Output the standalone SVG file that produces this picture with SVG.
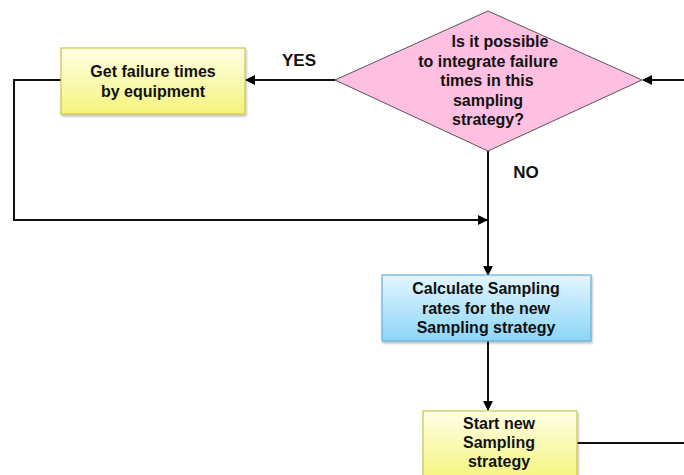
<svg xmlns="http://www.w3.org/2000/svg" width="684" height="475" viewBox="0 0 684 475">
<defs>
<linearGradient id="gy" x1="0" y1="0" x2="0" y2="1"><stop offset="0" stop-color="#ffffe6"/><stop offset="1" stop-color="#f4f47c"/></linearGradient>
<linearGradient id="gb" x1="0" y1="0" x2="0" y2="1"><stop offset="0" stop-color="#e4f6ff"/><stop offset="1" stop-color="#8cd6f8"/></linearGradient>
<marker id="ah" markerWidth="10" markerHeight="10" refX="9" refY="5" orient="auto" markerUnits="userSpaceOnUse"><path d="M0,0 L10,5 L0,10 Z" fill="#000"/></marker>
<filter id="sh" x="-10%" y="-10%" width="120%" height="130%"><feDropShadow dx="1" dy="2" stdDeviation="1.2" flood-color="#000" flood-opacity="0.25"/></filter>
</defs>
<style>
text{font-family:"Liberation Sans",Arial,sans-serif;font-weight:bold;font-size:16px;fill:#111;text-anchor:middle}
.c{fill:none;stroke:#111;stroke-width:2}
.yb{fill:url(#gy);stroke:#c8c84a;stroke-width:1.2}
.bb{fill:url(#gb);stroke:#6aaed8;stroke-width:1.2}
.lbl{font-size:17px}
</style>
<g id="connectors">
<line class="c" x1="684" y1="80" x2="643" y2="80" marker-end="url(#ah)"/>
<line class="c" x1="335" y1="80" x2="246" y2="80" marker-end="url(#ah)"/>
<polyline class="c" points="61,80 14,80 14,220 487,220" marker-end="url(#ah)"/>
<line class="c" x1="488" y1="151" x2="488" y2="275" marker-end="url(#ah)"/>
<line class="c" x1="488" y1="341" x2="488" y2="410" marker-end="url(#ah)"/>
<line class="c" x1="577" y1="443" x2="684" y2="443"/>
<text class="lbl" x="299" y="66">YES</text>
<text class="lbl" x="526" y="178">NO</text>
</g>
<g id="get-failure">
<rect class="yb" x="61" y="48" width="184" height="66" filter="url(#sh)"/>
<text x="153" y="77">Get failure times</text>
<text x="153" y="97">by equipment</text>
</g>
<g id="decision">
<polygon points="335,80 488,11 642,80 488,151" fill="#ffbfe1" stroke="#555" stroke-width="1"/>
<text x="500" y="47">Is it possible</text>
<text x="488" y="67">to integrate failure</text>
<text x="487" y="86">times in this</text>
<text x="488" y="106">sampling</text>
<text x="488" y="125">strategy?</text>
</g>
<g id="calculate">
<rect class="bb" x="382" y="275" width="209" height="66" filter="url(#sh)"/>
<text x="486" y="294">Calculate Sampling</text>
<text x="486" y="314">rates for the new</text>
<text x="486" y="333">Sampling strategy</text>
</g>
<g id="start">
<rect class="yb" x="423" y="411" width="154" height="70" filter="url(#sh)"/>
<text x="499" y="429">Start new</text>
<text x="499" y="448">Sampling</text>
<text x="499" y="467">strategy</text>
</g>
</svg>
